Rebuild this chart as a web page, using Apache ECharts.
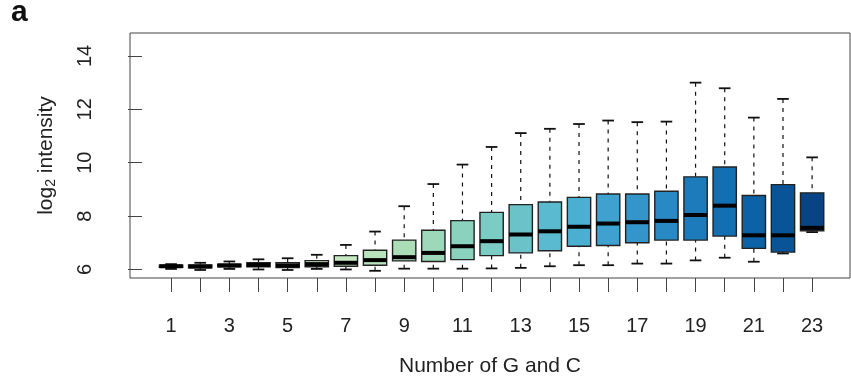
<!DOCTYPE html>
<html><head><meta charset="utf-8">
<script src="https://cdn.jsdelivr.net/npm/echarts@6/dist/echarts.min.js"></script>
<style>html,body{margin:0;padding:0;background:#fff}#c{width:851px;height:382px}</style>
</head><body><div id="c"></div>
<script>
// ---- data ----
const gcCounts    = [1,2,3,4,5,6,7,8,9,10,11,12,13,14,15,16,17,18,19,20,21,22,23];
const whiskerLow  = [6.02,5.98,6.02,6.00,5.98,6.02,6.00,5.95,6.03,6.03,6.03,6.04,6.06,6.12,6.16,6.16,6.22,6.22,6.34,6.44,6.29,6.60,7.40];
const quartile1   = [6.08,6.06,6.10,6.10,6.07,6.10,6.12,6.16,6.32,6.30,6.37,6.52,6.62,6.70,6.87,6.90,7.00,7.10,7.10,7.25,6.79,6.65,7.45];
const medians     = [6.12,6.11,6.15,6.17,6.15,6.20,6.25,6.35,6.46,6.62,6.87,7.06,7.31,7.43,7.60,7.72,7.77,7.82,8.04,8.39,7.28,7.28,7.56];
const quartile3   = [6.16,6.17,6.20,6.25,6.25,6.33,6.52,6.72,7.10,7.47,7.83,8.14,8.43,8.53,8.70,8.83,8.83,8.93,9.47,9.84,8.77,9.18,8.87];
const whiskerHigh = [6.20,6.25,6.30,6.38,6.42,6.55,6.92,7.42,8.37,9.20,9.93,10.59,11.11,11.27,11.45,11.58,11.52,11.54,13.00,12.79,11.69,12.39,10.20];
const xTickValues  = [1,2,3,4,5,6,7,8,9,10,11,12,13,14,15,16,17,18,19,20,21,22,23];
const xLabelValues = [1,3,5,7,9,11,13,15,17,19,21,23];
const yTickValues  = [6,8,10,12,14];

// ---- styling ----
const boxColors = ['#f7fcf0','#eff9e8','#e6f5e1','#def2d9','#d7efd1','#d0edc9','#c5e8c2','#b8e3bc',
  '#abdeb6','#9cd8b9','#8bd2be','#7bccc4','#6bc3c9','#5abacf','#4bafd1','#3ea1cf','#3495cb',
  '#2889c4','#1d7bbb','#1170b3','#0b62a6','#095496','#084485'];
const FONT = '"Liberation Sans", Arial, Helvetica, sans-serif';

const boxData = gcCounts.map((g, i) => [g, whiskerLow[i], quartile1[i], medians[i], quartile3[i], whiskerHigh[i]]);

const chart = echarts.init(document.getElementById('c'), null, {renderer: 'canvas'});
chart.setOption({
  animation: false,
  backgroundColor: '#fff',
  grid: {left: 130, right: 1, top: 33, bottom: 103.5, show: true, borderColor: '#444', borderWidth: 1, backgroundColor: 'transparent'},
  xAxis: {
    type: 'value', min: -0.41, max: 24.3,
    name: 'Number of G and C', nameLocation: 'middle', nameGap: 78,
    nameTextStyle: {fontFamily: FONT, fontSize: 21, color: '#222'},
    axisLine: {show: false},
    splitLine: {show: false},
    axisTick: {show: true, length: 14, customValues: xTickValues, lineStyle: {color: '#444', width: 1}},
    axisLabel: {customValues: xLabelValues, margin: 38, fontFamily: FONT, fontSize: 20, color: '#222'}
  },
  yAxis: {
    type: 'value', min: 5.68, max: 14.86,
    name: '{a|log}{b|2}{a| intensity}', nameLocation: 'middle', nameGap: 72,
    nameTextStyle: {fontFamily: FONT, color: '#222',
      rich: {a: {fontFamily: FONT, fontSize: 21, color: '#222'},
             b: {fontFamily: FONT, fontSize: 14, color: '#222', padding: [10, 0, 0, 0]}}},
    axisLine: {show: false},
    splitLine: {show: false},
    axisTick: {show: true, length: 14, customValues: yTickValues, lineStyle: {color: '#444', width: 1}},
    axisLabel: {customValues: yTickValues, rotate: 90, margin: 35, fontFamily: FONT, fontSize: 20, color: '#222'}
  },
  graphic: [{type: 'text', left: 11, top: -2, style: {text: 'a', font: 'bold 30px ' + FONT, fill: '#111'}}],
  series: [{
    type: 'custom',
    data: boxData,
    encode: {x: 0, y: [1, 2, 3, 4, 5]},
    renderItem: function (params, api) {
      const x = api.value(0);
      const pLo = api.coord([x, api.value(1)]);
      const pQ1 = api.coord([x, api.value(2)]);
      const pMed = api.coord([x, api.value(3)]);
      const pQ3 = api.coord([x, api.value(4)]);
      const pHi = api.coord([x, api.value(5)]);
      const halfW = api.size([0.8, 0])[0] / 2;
      const capW = halfW / 2;
      const cx = pLo[0];
      const color = boxColors[params.dataIndex];
      const dash = {stroke: '#111', lineWidth: 1.2, lineDash: [4, 5]};
      const solid = {stroke: '#111', lineWidth: 1.8};
      return {type: 'group', children: [
        {type: 'line', shape: {x1: cx, y1: pHi[1], x2: cx, y2: pQ3[1]}, style: dash},
        {type: 'line', shape: {x1: cx, y1: pLo[1], x2: cx, y2: pQ1[1]}, style: dash},
        {type: 'line', shape: {x1: cx - capW, y1: pHi[1], x2: cx + capW, y2: pHi[1]}, style: solid},
        {type: 'line', shape: {x1: cx - capW, y1: pLo[1], x2: cx + capW, y2: pLo[1]}, style: solid},
        {type: 'rect', shape: {x: cx - halfW, y: pQ3[1], width: 2 * halfW, height: pQ1[1] - pQ3[1]},
          style: {fill: color, stroke: '#222', lineWidth: 1.4}},
        {type: 'line', shape: {x1: cx - halfW, y1: pMed[1], x2: cx + halfW, y2: pMed[1]},
          style: {stroke: '#000', lineWidth: 4}}
      ]};
    }
  }]
});
</script></body></html>
